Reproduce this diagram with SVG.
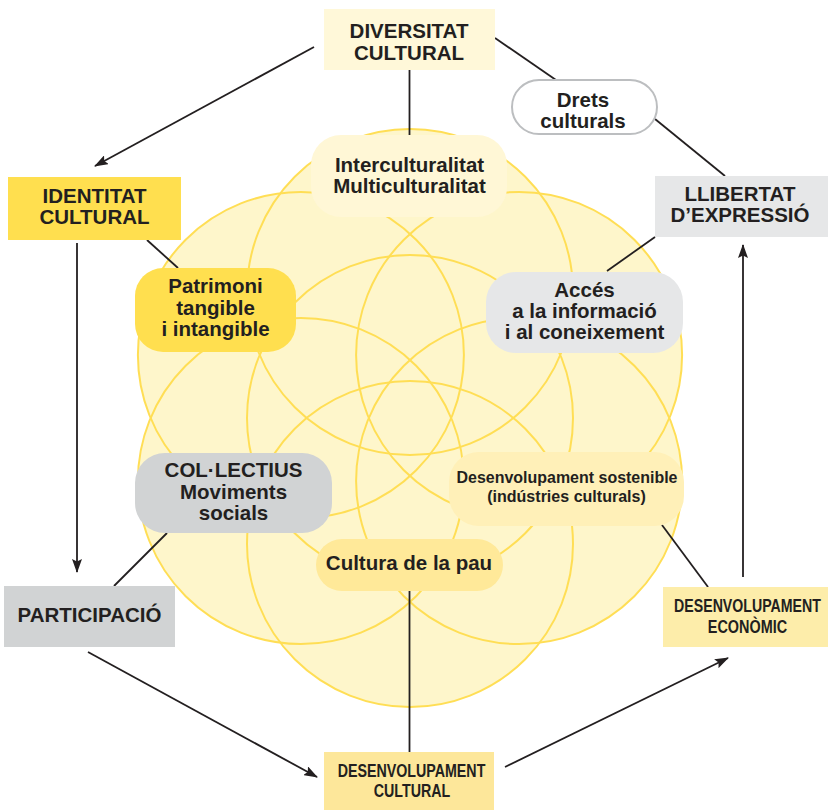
<svg xmlns="http://www.w3.org/2000/svg" width="828" height="810" viewBox="0 0 828 810">
<defs>
<marker id="arr" viewBox="0 0 14 10" refX="13" refY="5" markerWidth="14" markerHeight="10" markerUnits="userSpaceOnUse" orient="auto">
<path d="M0,0 L14,5 L0,10 L2.5,5 z" fill="#231F20"/>
</marker>
</defs>
<style>
text{font-family:"Liberation Sans",Arial,Helvetica,sans-serif;font-weight:bold;fill:#231F20;text-anchor:middle;font-size:20.5px}
.c{font-size:19px}
.s{font-size:17px}
.cf{fill:#FEF6CB;stroke:none}
.cs{fill:none;stroke:#FFDE55;stroke-width:2}
.ln{stroke:#231F20;stroke-width:1.8;fill:none}
.ar{stroke:#231F20;stroke-width:1.8;fill:none;marker-end:url(#arr)}
</style>
<rect width="828" height="810" fill="#FFFFFF"/>
<g id="flower">
<circle class="cf" cx="410" cy="418" r="163"/>
<circle class="cf" cx="410" cy="292" r="163"/>
<circle class="cf" cx="410" cy="544" r="163"/>
<circle class="cf" cx="300.9" cy="355" r="163"/>
<circle class="cf" cx="519.1" cy="355" r="163"/>
<circle class="cf" cx="300.9" cy="481" r="163"/>
<circle class="cf" cx="519.1" cy="481" r="163"/>
<circle class="cs" cx="410" cy="418" r="163"/>
<circle class="cs" cx="410" cy="292" r="163"/>
<circle class="cs" cx="410" cy="544" r="163"/>
<circle class="cs" cx="300.9" cy="355" r="163"/>
<circle class="cs" cx="519.1" cy="355" r="163"/>
<circle class="cs" cx="300.9" cy="481" r="163"/>
<circle class="cs" cx="519.1" cy="481" r="163"/>
</g>
<g id="connectors">
<line class="ar" x1="314" y1="47" x2="95" y2="166"/>
<line class="ln" x1="409.5" y1="70" x2="409.5" y2="136"/>
<line class="ln" x1="495" y1="38" x2="556" y2="80"/>
<line class="ln" x1="655" y1="119" x2="725" y2="176"/>
<line class="ln" x1="147" y1="240" x2="178" y2="268"/>
<line class="ar" x1="77" y1="243" x2="77" y2="572"/>
<line class="ln" x1="655" y1="237" x2="607" y2="271"/>
<line class="ln" x1="167" y1="533" x2="114" y2="586"/>
<line class="ar" x1="88" y1="652" x2="317" y2="777"/>
<line class="ln" x1="409.5" y1="591" x2="409.5" y2="752"/>
<line class="ar" x1="505" y1="767" x2="728" y2="658"/>
<line class="ln" x1="662" y1="525" x2="708" y2="587"/>
<line class="ar" x1="743" y1="577" x2="743" y2="245"/>
</g>
<g id="diversitat">
<rect x="324" y="9" width="171" height="61" fill="#FFF8D9"/>
<text x="409" y="38">DIVERSITAT</text>
<text x="409" y="60">CULTURAL</text>
</g>
<g id="identitat">
<rect x="8" y="177" width="173" height="63" fill="#FFDF4F"/>
<text x="94.5" y="203">IDENTITAT</text>
<text x="94.5" y="224">CULTURAL</text>
</g>
<g id="llibertat">
<rect x="655" y="176" width="173" height="61" fill="#E6E7E8"/>
<text x="740" y="201">LLIBERTAT</text>
<text x="740" y="222">D’EXPRESSIÓ</text>
</g>
<g id="participacio">
<rect x="4" y="586" width="171" height="61" fill="#D1D3D4"/>
<text x="89.5" y="622">PARTICIPACIÓ</text>
</g>
<g id="desenv-cultural">
<rect x="324" y="752" width="170" height="58" fill="#FDE79A"/>
<text class="c" transform="translate(411.5,777) scale(0.75,1)">DESENVOLUPAMENT</text>
<text class="c" transform="translate(412,797) scale(0.75,1)">CULTURAL</text>
</g>
<g id="desenv-economic">
<rect x="663" y="587" width="165" height="60" fill="#FDEDAA"/>
<text class="c" transform="translate(747.5,612) scale(0.745,1)">DESENVOLUPAMENT</text>
<text class="c" transform="translate(747.5,633) scale(0.76,1)">ECONÒMIC</text>
</g>
<g id="drets">
<rect x="512" y="80" width="145" height="54" rx="27" fill="#FFFFFF" stroke="#BCBEC0" stroke-width="2"/>
<text x="583" y="107">Drets</text>
<text x="583" y="128">culturals</text>
</g>
<g id="intercultural">
<rect x="311" y="135" width="196" height="82" rx="30" fill="#FFF7D6"/>
<text x="409.5" y="172">Interculturalitat</text>
<text x="409.5" y="193">Multiculturalitat</text>
</g>
<g id="patrimoni">
<rect x="135" y="268" width="161" height="84" rx="28" fill="#FFDF4F"/>
<text x="215.5" y="293">Patrimoni</text>
<text x="215.5" y="315">tangible</text>
<text x="215.5" y="336">i intangible</text>
</g>
<g id="acces">
<rect x="486" y="272" width="197" height="81" rx="30" fill="#E6E7E8"/>
<text x="584.5" y="297">Accés</text>
<text x="584.5" y="318">a la informació</text>
<text x="584.5" y="339">i al coneixement</text>
</g>
<g id="collectius">
<rect x="135" y="453" width="197" height="80" rx="30" fill="#D1D3D4"/>
<text x="233.5" y="477">COL·LECTIUS</text>
<text x="233.5" y="498.5">Moviments</text>
<text x="233.5" y="519.5">socials</text>
</g>
<g id="sostenible">
<rect x="449" y="452" width="235" height="74" rx="30" fill="#FFF0B8"/>
<text class="s" transform="translate(567,483) scale(0.94,1)">Desenvolupament sostenible</text>
<text class="s" transform="translate(566.5,502) scale(0.945,1)">(indústries culturals)</text>
</g>
<g id="pau">
<rect x="316" y="539" width="187" height="52" rx="26" fill="#FFE999"/>
<text x="409" y="570">Cultura de la pau</text>
</g>
</svg>
